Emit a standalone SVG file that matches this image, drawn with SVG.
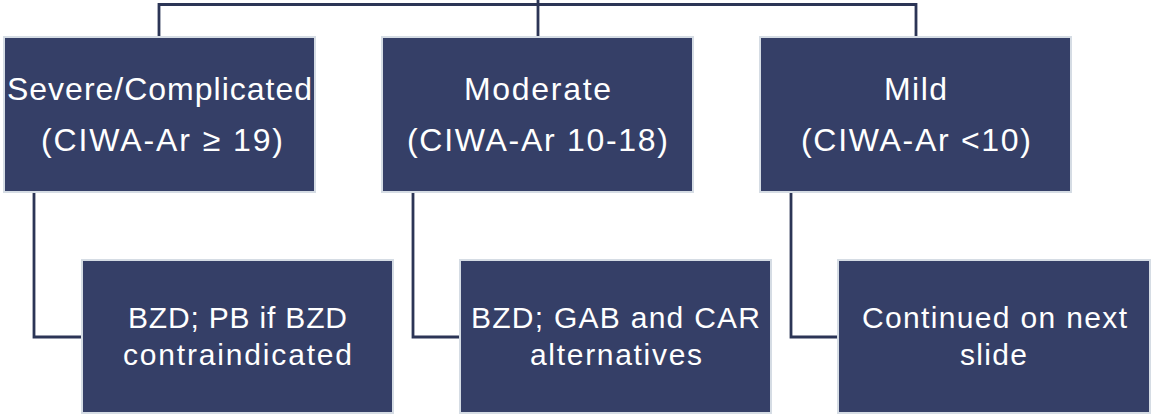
<svg xmlns="http://www.w3.org/2000/svg" width="1153" height="419" viewBox="0 0 1153 419">
<style>
.box{fill:#353F67;stroke:#D5DCE4;stroke-width:2}
.conn{fill:none;stroke:#2C3556;stroke-width:2.8}
.t{font-family:"Liberation Sans",Arial,sans-serif;fill:#FFFFFF;text-anchor:middle}
.big{font-size:32px}
.sm{font-size:30px}
</style>
<rect width="1153" height="419" fill="#FFFFFF"/>
<g id="connectors">
<path class="conn" d="M538,0 V4.5 M159,36 V4.5 H916 V36"/>
<path class="conn" d="M538,4.5 V36"/>
<path class="conn" d="M34,193 V337 H82"/>
<path class="conn" d="M413,193 V337 H460"/>
<path class="conn" d="M791,193 V337 H838"/>
</g>
<g id="severe">
<rect class="box" x="4" y="37" width="311" height="155"/>
<text class="t big" x="159.5" y="100" textLength="305">Severe/Complicated</text>
<text class="t big" x="162" y="151" textLength="242">(CIWA-Ar ≥ 19)</text>
</g>
<g id="moderate">
<rect class="box" x="382" y="37" width="311" height="155"/>
<text class="t big" x="537.5" y="100" textLength="147">Moderate</text>
<text class="t big" x="537.5" y="151" textLength="261">(CIWA-Ar 10-18)</text>
</g>
<g id="mild">
<rect class="box" x="760" y="37" width="311" height="155"/>
<text class="t big" x="915.5" y="100" textLength="63">Mild</text>
<text class="t big" x="916" y="151" textLength="230">(CIWA-Ar &lt;10)</text>
</g>
<g id="severe-treatment">
<rect class="box" x="82" y="260" width="311" height="153"/>
<text class="t sm" x="237.5" y="328" textLength="219">BZD; PB if BZD</text>
<text class="t sm" x="237.5" y="365" textLength="229">contraindicated</text>
</g>
<g id="moderate-treatment">
<rect class="box" x="460" y="260" width="311" height="153"/>
<text class="t sm" x="615.5" y="328" textLength="289">BZD; GAB and CAR</text>
<text class="t sm" x="616" y="365" textLength="172">alternatives</text>
</g>
<g id="mild-treatment">
<rect class="box" x="838" y="260" width="312" height="153"/>
<text class="t sm" x="994.5" y="328" textLength="265">Continued on next</text>
<text class="t sm" x="993.5" y="365" textLength="67">slide</text>
</g>
</svg>
